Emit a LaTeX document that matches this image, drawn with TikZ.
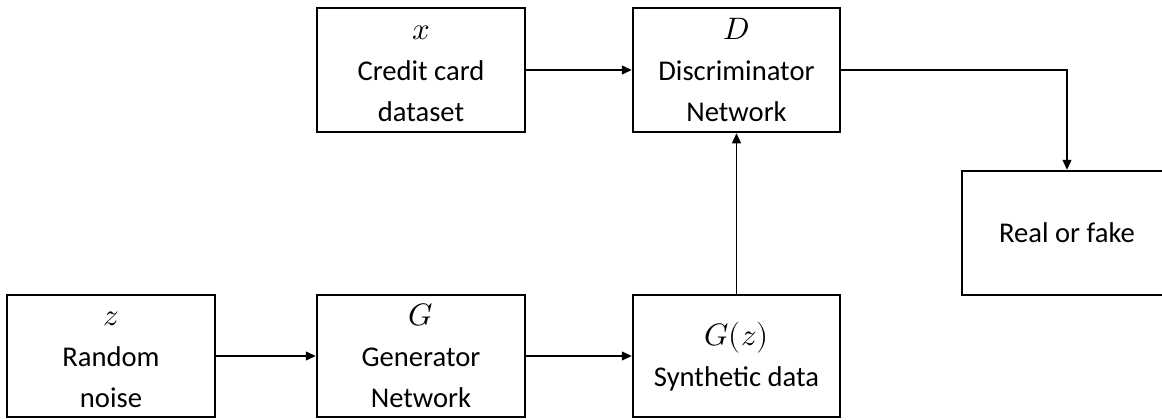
\documentclass[tikz,border=0pt]{standalone}
\usepackage{fontspec}
\usepackage{unicode-math}
\setmainfont{Carlito}
\setmathfont{Latin Modern Math}
\usetikzlibrary{arrows.meta}
\newcommand{\mth}[1]{{\fontsize{31}{41}\selectfont\rule{0pt}{22pt}$#1$}}
\begin{document}
\begin{tikzpicture}[x=1pt,y=-1pt,
  box/.style={draw,line width=2.5pt,inner sep=0pt,align=center,
    font=\fontsize{28.6}{41}\selectfont},
  conn/.style={line width=1.3pt,-{Triangle[length=10pt,width=9pt]}}]
\useasboundingbox (0,0) rectangle (1162,420);
\node[box,minimum width=208pt,minimum height=124pt] (x) at (421,70) {\mth{x}\\Credit card\\dataset};
\node[box,minimum width=207pt,minimum height=124pt] (D) at (736.5,70) {\mth{D}\\Discriminator\\Network};
\node[box,minimum width=208pt,minimum height=122pt] (z) at (111,356) {\mth{z}\\Random\\noise};
\node[box,minimum width=208pt,minimum height=122pt] (G) at (421,356) {\mth{G}\\Generator\\Network};
\node[box,minimum width=207pt,minimum height=122pt] (Gz) at (736.5,356) {{\fontsize{31}{41}\selectfont\rule{0pt}{26pt}$G(z)$}\\Synthetic data\rule[-6pt]{0pt}{0pt}};
\node[box,minimum width=210pt,minimum height=124pt] (Real) at (1067,233) {Real or fake};
\draw[conn] (z) -- (G);
\draw[conn] (G) -- (Gz);
\draw[conn] (x) -- (D);
\draw[conn] (Gz) -- (D);
\draw[conn] (D.east) -| (Real.north);
\end{tikzpicture}
\end{document}
